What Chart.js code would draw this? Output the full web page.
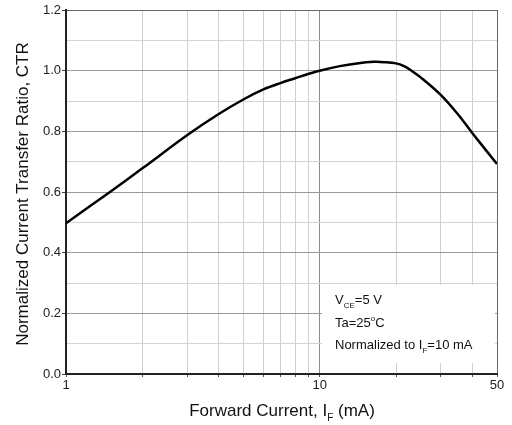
<!DOCTYPE html>
<html>
<head>
<meta charset="utf-8">
<script src="https://cdn.jsdelivr.net/npm/chart.js@4"></script>
<style>
  html, body { margin: 0; padding: 0; background: #fff; }
  #wrap { width: 512px; height: 425px; position: relative; }
</style>
</head>
<body>
<div id="wrap"><canvas id="ctrChart"></canvas></div>
<script>
// forward current (mA) and normalized CTR
const currents = [1, 1.5, 2, 3, 4, 5, 6, 7, 8, 9, 10, 12, 14, 16.4, 18, 20, 21.5, 23, 25, 30, 35, 40, 50];
const ctrValues = [0.497, 0.602, 0.678, 0.787, 0.857, 0.905, 0.938, 0.959, 0.975, 0.989, 1.0, 1.015, 1.024, 1.029, 1.028, 1.024, 1.015, 1.0, 0.978, 0.92, 0.857, 0.794, 0.692];

const xGridValues = [1, 2, 3, 4, 5, 6, 7, 8, 9, 10, 20, 30, 40, 50];
const xLabelValues = [1, 10, 50];

const FONT = '"Liberation Sans", Arial, sans-serif';

// draws text with a subscript part: parts = [[text, 'n'|'sub'|'sup'], ...]
function drawRich(ctx, parts, x, y, size, align) {
    const sub = Math.round(size * 0.6);
    let total = 0;
    parts.forEach(p => {
        ctx.font = (p[1] === 'n' ? size : sub) + 'px ' + FONT;
        total += ctx.measureText(p[0]).width;
    });
    let cx = align === 'center' ? x - total / 2 : x;
    ctx.textAlign = 'left';
    ctx.textBaseline = 'alphabetic';
    parts.forEach(p => {
        ctx.font = (p[1] === 'n' ? size : sub) + 'px ' + FONT;
        let dy = 0;
        if (p[1] === 'sub') dy = size * 0.28;
        if (p[1] === 'sup') dy = -size * 0.45;
        ctx.fillText(p[0], cx, y + dy);
        cx += ctx.measureText(p[0]).width;
    });
}

const labelsPlugin = {
    id: 'labels',
    beforeDatasetsDraw(chart) {
        const ctx = chart.ctx;
        // note box over the grid
        ctx.save();
        ctx.fillStyle = '#fff';
        ctx.fillRect(322, 285, 173, 78);
        ctx.restore();
    },
    afterDraw(chart) {
        const ctx = chart.ctx;
        const area = chart.chartArea;
        ctx.save();
        ctx.fillStyle = '#111';
        drawRich(ctx, [['V', 'n'], ['CE', 'sub'], ['=5 V', 'n']], 335, 304, 13, 'left');
        drawRich(ctx, [['Ta=25', 'n'], ['o', 'sup'], ['C', 'n']], 335, 327, 13, 'left');
        drawRich(ctx, [['Normalized to I', 'n'], ['F', 'sub'], ['=10 mA', 'n']], 335, 349, 13, 'left');

        // x title
        drawRich(ctx, [['Forward Current, I', 'n'], ['F', 'sub'], [' (mA)', 'n']], 282, 416, 17, 'center');

        // y title
        ctx.translate(28, (area.top + area.bottom) / 2 + 2);
        ctx.rotate(-Math.PI / 2);
        ctx.font = '17px ' + FONT;
        ctx.textAlign = 'center';
        ctx.textBaseline = 'alphabetic';
        ctx.fillText('Normalized Current Transfer Ratio, CTR', 0, 0);
        ctx.restore();
    }
};

new Chart(document.getElementById('ctrChart').getContext('2d'), {
    type: 'line',
    data: {
        datasets: [{
            data: currents.map((c, i) => ({ x: c, y: ctrValues[i] })),
            borderColor: '#000',
            borderWidth: 2.5,
            pointRadius: 0,
            fill: false,
            tension: 0.35
        }]
    },
    options: {
        responsive: true,
        maintainAspectRatio: false,
        animation: false,
        layout: { padding: { top: 10, right: 15, left: 0, bottom: 0 } },
        plugins: {
            legend: { display: false },
            tooltip: { enabled: false }
        },
        scales: {
            x: {
                type: 'logarithmic',
                min: 1,
                max: 50,
                afterBuildTicks: s => { s.ticks = xGridValues.map(v => ({ value: v })); },
                afterFit: s => { s.height = 51; },
                grid: {
                    color: c => c.tick && c.tick.value === 10 ? '#8a8a8a' : (c.tick && c.tick.value === 50 ? '#666' : '#cfcfcf'),
                    tickColor: '#555',
                    tickLength: 3,
                    lineWidth: 1
                },
                border: { color: '#222', width: 2 },
                ticks: {
                    autoSkip: false,
                    maxRotation: 0,
                    padding: 1,
                    color: '#222',
                    font: { family: FONT, size: 13 },
                    callback: v => xLabelValues.includes(v) ? String(v) : ''
                }
            },
            y: {
                min: 0,
                max: 1.2,
                afterFit: s => { s.width = 66; },
                grid: {
                    color: c => {
                        const v = Math.round(c.tick.value * 10);
                        if (v === 12) return '#666';
                        return v % 2 === 0 ? '#9a9a9a' : '#d4d4d4';
                    },
                    tickColor: c => Math.round(c.tick.value * 10) % 2 === 0 ? '#444' : 'rgba(0,0,0,0)',
                    tickLength: 4,
                    lineWidth: 1
                },
                border: { color: '#222', width: 2 },
                ticks: {
                    stepSize: 0.1,
                    padding: 1,
                    color: '#222',
                    font: { family: FONT, size: 13 },
                    callback: v => Math.round(v * 10) % 2 === 0 ? v.toFixed(1) : ''
                }
            }
        }
    },
    plugins: [labelsPlugin]
});
</script>
</body>
</html>
